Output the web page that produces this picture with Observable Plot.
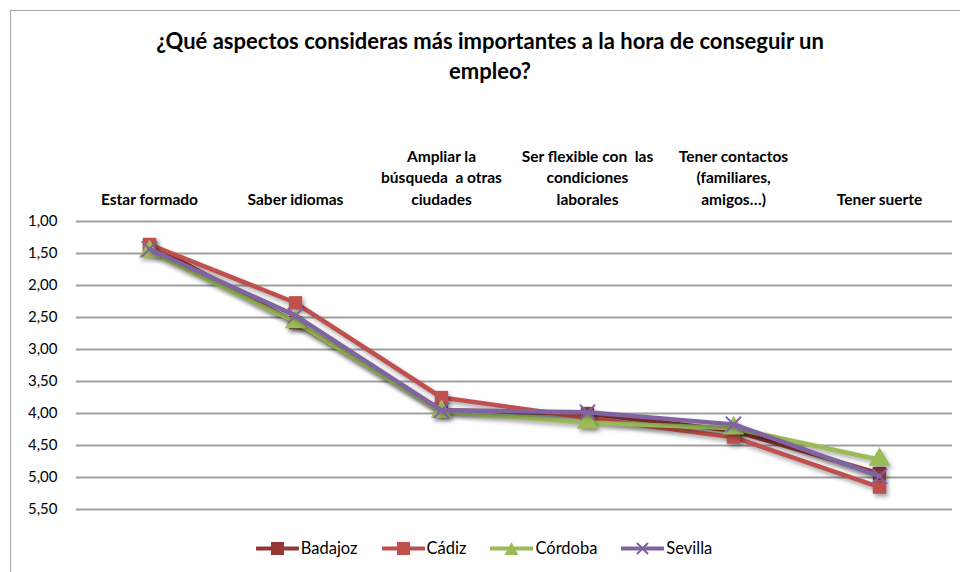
<!DOCTYPE html>
<html>
<head>
<meta charset="utf-8">
<script src="https://cdn.jsdelivr.net/npm/d3@7"></script>
<script src="https://cdn.jsdelivr.net/npm/@observablehq/plot@0.6"></script>
<style>
  html, body { margin: 0; padding: 0; background: #fff; }
  #wrap { position: relative; width: 960px; height: 572px; overflow: hidden; font-family: Lato, "Open Sans", sans-serif; }
  #frame { position: absolute; left: 10px; top: 10px; width: 1000px; height: 600px; border: 1.5px solid #a6a6a6; box-sizing: border-box; }
  #title { position: absolute; left: 10px; top: 26px; width: 960px; text-align: center; font-weight: 700; font-size: 22px; line-height: 30px; color: #000; }
  #chart { position: absolute; left: 0; top: 0; }
  #legend { position: absolute; left: 4px; top: 538px; width: 960px; display: flex; justify-content: center; gap: 24px; font-size: 16.5px; color: #000; align-items: center; }
  #legend .item { display: flex; align-items: center; gap: 2px; }
  .shadow path { filter: drop-shadow(2px 3px 2px rgba(0,0,0,0.35)); }
</style>
</head>
<body>
<div id="wrap">
  <div id="frame"></div>
  <div id="title">¿Qué aspectos consideras más importantes a la hora de conseguir un<br>empleo?</div>
  <div id="chart"></div>
  <div id="legend"></div>
</div>
<script>
const categories = [
  "Estar formado",
  "Saber idiomas",
  "Ampliar la\nbúsqueda  a otras\nciudades",
  "Ser flexible con  las\ncondiciones\nlaborales",
  "Tener contactos\n(familiares,\namigos…)",
  "Tener suerte"
];
const seriesNames = ["Badajoz", "Cádiz", "Córdoba", "Sevilla"];
const badajoz = [1.36, 2.58, 3.95, 4.00, 4.27, 4.94];
const cadiz   = [1.36, 2.27, 3.75, 4.07, 4.37, 5.15];
const cordoba = [1.47, 2.57, 3.97, 4.14, 4.23, 4.72];
const sevilla = [1.43, 2.47, 3.95, 3.98, 4.17, 4.98];
const yTicks = [1.0, 1.5, 2.0, 2.5, 3.0, 3.5, 4.0, 4.5, 5.0, 5.5];

const colors = {"Badajoz": "#953735", "Cádiz": "#C0504D", "Córdoba": "#9BBB59", "Sevilla": "#8064A2"};
const symbols = {"Badajoz": "square", "Cádiz": "square", "Córdoba": "triangle", "Sevilla": "times"};
const valuesBy = {"Badajoz": badajoz, "Cádiz": cadiz, "Córdoba": cordoba, "Sevilla": sevilla};

const rows = seriesNames.flatMap(s => categories.map((c, i) => ({series: s, cat: c, value: valuesBy[s][i]})));

const marks = [
  Plot.ruleY(yTicks, {stroke: "#a0a0a0", strokeWidth: 2, strokeOpacity: 1}),
  Plot.axisY(yTicks, {tickSize: 0, tickPadding: 19, fontSize: 15, fontFamily: "Lato, 'Open Sans', sans-serif",
    tickFormat: d => d.toFixed(2).replace(".", ","), fill: "#000", label: null}),
  Plot.axisX({anchor: "top", tickSize: 0, tickPadding: 17, fontSize: 15.5, fontWeight: 700, lineHeight: 1.38,
    fontFamily: "Lato, 'Open Sans', sans-serif", fill: "#000", label: null})
];
for (const s of seriesNames) {
  const d = rows.filter(r => r.series === s);
  marks.push(Plot.line(d, {x: "cat", y: "value", stroke: colors[s], strokeWidth: 4.5, className: "shadow"}));
  if (symbols[s] === "times") {
    marks.push(Plot.dot(d, {x: "cat", y: "value", symbol: "times", r: 7, stroke: colors[s], strokeWidth: 2}));
  } else {
    marks.push(Plot.dot(d, {x: "cat", y: "value", symbol: symbols[s], r: symbols[s] === "square" ? 7.5 : 8, fill: colors[s], stroke: "none", className: "shadow"}));
  }
}

const plot = Plot.plot({
  width: 960,
  height: 572,
  marginTop: 221,
  marginBottom: 63,
  marginLeft: 76,
  marginRight: 8,
  style: {background: "transparent", overflow: "visible"},
  x: {type: "point", domain: categories, padding: 0.5, axis: null},
  y: {domain: [1, 5.5], reverse: true, axis: null},
  marks
});
document.getElementById("chart").appendChild(plot);

// legend
const legend = document.getElementById("legend");
for (const s of seriesNames) {
  const item = document.createElement("div");
  item.className = "item";
  const sym = symbols[s];
  let marker = "";
  if (sym === "square") marker = `<rect x="15" y="3" width="13" height="13" fill="${colors[s]}"/>`;
  else if (sym === "triangle") marker = `<path d="M21.5,3 L28.5,16 L14.5,16 Z" fill="${colors[s]}"/>`;
  else marker = `<path d="M16,4 L27,15 M27,4 L16,15" stroke="${colors[s]}" stroke-width="2"/>`;
  item.innerHTML = `<svg width="43" height="19"><line x1="1" y1="9.5" x2="42" y2="9.5" stroke="${colors[s]}" stroke-width="4" stroke-linecap="round"/>${marker}</svg><span>${s}</span>`;
  legend.appendChild(item);
}
</script>
</body>
</html>
